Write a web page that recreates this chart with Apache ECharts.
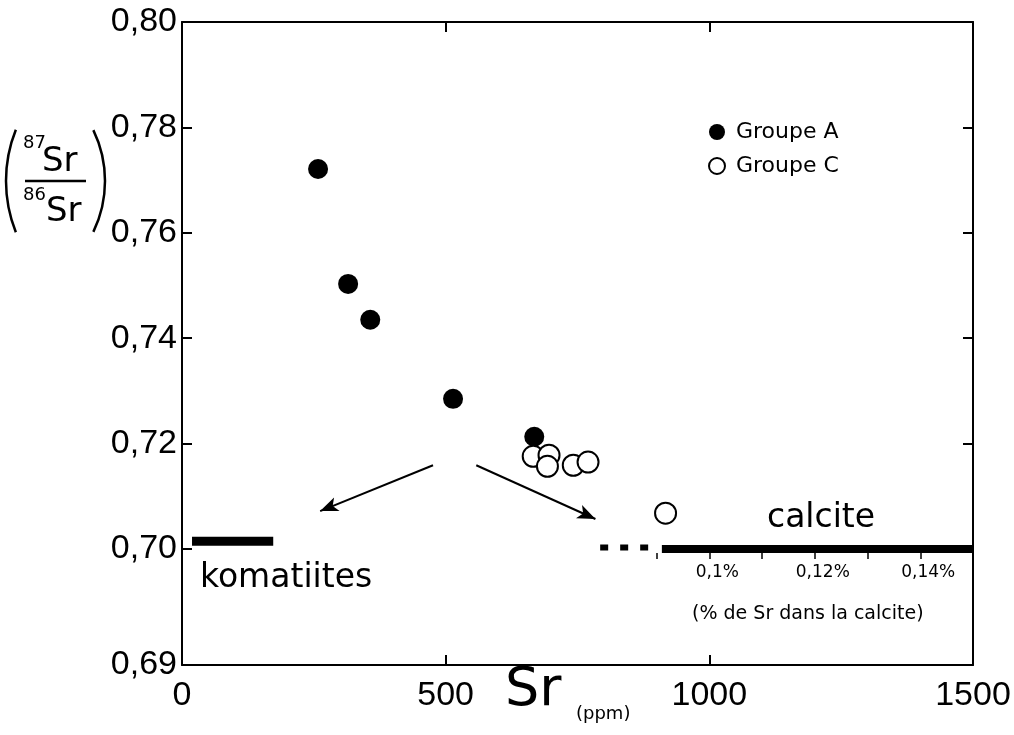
<!DOCTYPE html>
<html>
<head>
<meta charset="utf-8">
<script src="https://cdn.jsdelivr.net/npm/echarts@6/dist/echarts.min.js"></script>
<style>html,body{margin:0;padding:0;background:#fff;}#c{width:1014px;height:735px;}</style>
</head>
<body>
<div id="c"></div>
<script>
// ---- data ----
var groupeA = [[258, 0.7721], [315, 0.7503], [357, 0.7435], [514, 0.7285], [668, 0.7213]];
var groupeC = [[666, 0.7176], [696, 0.7178], [693, 0.7157], [742, 0.7159], [770, 0.7165], [917, 0.7068]];
var komatiitesBar = [[19, 0.7015], [173, 0.7015]];
var calciteBar = [[910, 0.7000], [1500, 0.7000]];
var calciteDashed = [[793, 0.7003], [884, 0.7003]];
var arrows = [
  [[476, 0.7159], [262, 0.7072]],
  [[558, 0.7159], [784, 0.7057]]
];
// y axis is broken below 0.70: the bottom tick is labelled 0,69
var yTickValues = [0.678, 0.70, 0.72, 0.74, 0.76, 0.78, 0.80];
var yTickLabels = ['0,69', '0,70', '0,72', '0,74', '0,76', '0,78', '0,80'];
var xTickLabels = ['0', '500', '1000', '1500'];
var calciteTickValues = [1000, 1200, 1400];
var calciteTickLabels = ['0,1%', '0,12%', '0,14%'];

var FONT = 'DejaVu Sans';
var NUMFONT = 'Liberation Sans';
var chart = echarts.init(document.getElementById('c'), null, {renderer: 'canvas'});

function yLabel(v) {
  for (var i = 0; i < yTickValues.length; i++) {
    if (Math.abs(yTickValues[i] - v) < 1e-6) return yTickLabels[i];
  }
  return '';
}
function calciteLabel(v) {
  for (var i = 0; i < calciteTickValues.length; i++) {
    if (Math.abs(calciteTickValues[i] - v) < 1e-6) return calciteTickLabels[i];
  }
  return '';
}

var axisLine = {show: true, onZero: false, lineStyle: {color: '#000', width: 2}};
var noLine = {show: false, onZero: false};
var tickStyle = {color: '#000', width: 2};

chart.setOption({
  animation: false,
  backgroundColor: '#fff',
  textStyle: {fontFamily: FONT, color: '#000'},
  grid: [
    {left: 182, right: 41, top: 22, bottom: 70},
    {left: 656.6, right: 41, top: 552, height: 1},
    {left: 182, right: 41, top: 22, bottom: 186}
  ],
  legend: {
    data: ['Groupe A', 'Groupe C'],
    orient: 'vertical',
    left: 703, top: 116,
    itemWidth: 16, itemHeight: 16, itemGap: 12,
    textStyle: {fontFamily: FONT, fontSize: 22, color: '#000', padding: [0, 0, 0, 6]}
  },
  xAxis: [
    {
      type: 'value', gridIndex: 0, position: 'bottom', min: 0, max: 1500, interval: 500,
      axisLine: axisLine, splitLine: {show: false},
      axisTick: {show: true, inside: true, length: 10, lineStyle: tickStyle},
      axisLabel: {fontFamily: NUMFONT, fontSize: 34, color: '#000', margin: 14,
        formatter: function (v) { return xTickLabels[Math.round(v / 500)]; }}
    },
    {
      type: 'value', gridIndex: 0, position: 'top', min: 0, max: 1500, interval: 500,
      axisLine: axisLine, splitLine: {show: false},
      axisTick: {show: true, inside: true, length: 10, lineStyle: tickStyle},
      axisLabel: {show: false}
    },
    {
      type: 'value', gridIndex: 1, position: 'bottom', min: 900, max: 1500, interval: 100,
      axisLine: noLine, splitLine: {show: false},
      axisTick: {show: true, inside: false, length: 6, lineStyle: {color: '#000', width: 1.5}},
      axisLabel: {fontFamily: FONT, fontSize: 17, color: '#000', margin: 11, padding: [0, 0, 0, 16],
        formatter: function (v) { return calciteLabel(v); }},
      name: '(% de Sr dans la calcite)', nameLocation: 'middle', nameGap: 52,
      nameTextStyle: {fontFamily: FONT, fontSize: 19, color: '#000', padding: [0, 14, 0, 0]}
    },
    {
      type: 'value', gridIndex: 2, min: 0, max: 1500, show: false
    }
  ],
  yAxis: [
    {
      type: 'value', gridIndex: 0, position: 'left', min: 0.678, max: 0.80,
      axisLine: axisLine, splitLine: {show: false},
      axisTick: {show: false},
      axisLabel: {fontFamily: NUMFONT, fontSize: 34, color: '#000', margin: 5,
        customValues: yTickValues, formatter: function (v) { return yLabel(v); }}
    },
    {
      type: 'value', gridIndex: 0, position: 'right', min: 0.678, max: 0.80,
      axisLine: axisLine, splitLine: {show: false},
      axisTick: {show: false}, axisLabel: {show: false}
    },
    {
      type: 'value', gridIndex: 1, min: 0, max: 1, show: false
    },
    {
      type: 'value', gridIndex: 2, position: 'left', min: 0.70, max: 0.80, interval: 0.02,
      axisLine: noLine, splitLine: {show: false},
      axisTick: {show: true, inside: true, length: 10, lineStyle: tickStyle},
      axisLabel: {show: false}
    },
    {
      type: 'value', gridIndex: 2, position: 'right', min: 0.70, max: 0.80, interval: 0.02,
      axisLine: noLine, splitLine: {show: false},
      axisTick: {show: true, inside: true, length: 10, lineStyle: tickStyle},
      axisLabel: {show: false}
    }
  ],
  series: [
    {
      name: 'komatiites', type: 'line', xAxisIndex: 0, yAxisIndex: 0,
      data: komatiitesBar, symbol: 'none', silent: true,
      lineStyle: {color: '#000', width: 9},
      markLine: {
        silent: true, symbol: ['none', 'arrow'], symbolSize: [11, 18],
        label: {show: false},
        lineStyle: {color: '#000', width: 2, type: 'solid'},
        data: arrows.map(function (a) { return [{coord: a[0]}, {coord: a[1]}]; })
      }
    },
    {
      name: 'calcite', type: 'line', xAxisIndex: 0, yAxisIndex: 0,
      data: calciteBar, symbol: 'none', silent: true,
      lineStyle: {color: '#000', width: 8}
    },
    {
      name: 'calcite-dash', type: 'line', xAxisIndex: 0, yAxisIndex: 0,
      data: calciteDashed, symbol: 'none', silent: true,
      lineStyle: {color: '#000', width: 6, type: [8, 12]}
    },
    {
      name: 'Groupe A', type: 'scatter', xAxisIndex: 0, yAxisIndex: 0,
      data: groupeA, symbol: 'circle', symbolSize: 20,
      itemStyle: {color: '#000', opacity: 1}
    },
    {
      name: 'Groupe C', type: 'scatter', xAxisIndex: 0, yAxisIndex: 0,
      data: groupeC, symbol: 'emptyCircle', symbolSize: 21,
      itemStyle: {color: '#000', borderColor: '#000', borderWidth: 2.2, opacity: 1}
    }
  ],
  graphic: [
    {type: 'text', left: 200, top: 562, style: {text: 'komatiites', font: '33px "DejaVu Sans"', fill: '#000'}},
    {type: 'text', left: 767, top: 502, style: {text: 'calcite', font: '33px "DejaVu Sans"', fill: '#000'}},
    {type: 'text', left: 505, top: 664, style: {text: 'Sr', font: '54px "DejaVu Sans"', fill: '#000'}},
    {type: 'text', left: 576, top: 705, style: {text: '(ppm)', font: '18px "DejaVu Sans"', fill: '#000'}},
    // y axis title (87Sr / 86Sr)
    {type: 'arc', shape: {cx: 144, cy: 181, r: 138, startAngle: Math.PI - 0.38, endAngle: Math.PI + 0.38},
      style: {stroke: '#000', lineWidth: 2.5, fill: null}},
    {type: 'arc', shape: {cx: -12, cy: 181, r: 117, startAngle: -0.45, endAngle: 0.45},
      style: {stroke: '#000', lineWidth: 2.5, fill: null}},
    {type: 'text', left: 23, top: 134, style: {text: '87', font: '18px "DejaVu Sans"', fill: '#000'}},
    {type: 'text', left: 42, top: 145, style: {text: 'Sr', font: '34px "DejaVu Sans"', fill: '#000'}},
    {type: 'line', shape: {x1: 25, y1: 181, x2: 86, y2: 181}, style: {stroke: '#000', lineWidth: 2.5}},
    {type: 'text', left: 23, top: 186, style: {text: '86', font: '18px "DejaVu Sans"', fill: '#000'}},
    {type: 'text', left: 46, top: 195, style: {text: 'Sr', font: '34px "DejaVu Sans"', fill: '#000'}}
  ]
});
</script>
</body>
</html>
